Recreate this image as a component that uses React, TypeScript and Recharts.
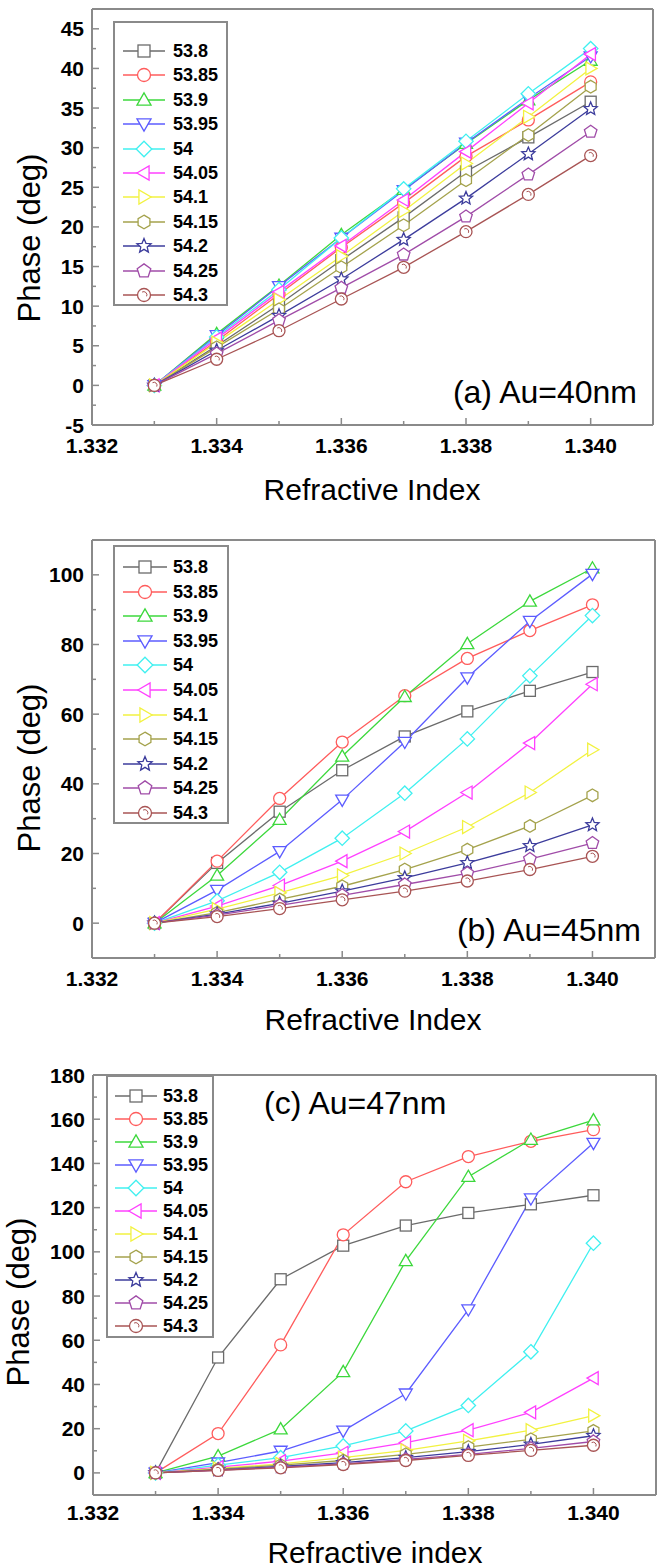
import React from "react";
import { LineChart, Line, XAxis, YAxis, Legend } from "recharts";

// x values (refractive index) shared by all three panels
const refractiveIndex = [1.333, 1.334, 1.335, 1.336, 1.337, 1.338, 1.339, 1.34];

// incidence angles, one series each
const angleLabels = ["53.8", "53.85", "53.9", "53.95", "54", "54.05", "54.1", "54.15", "54.2", "54.25", "54.3"];
const seriesColors = ["#6b6b6b", "#ff5c5c", "#3cd83c", "#5c5cff", "#40f0f0", "#ff40ff", "#f2f240", "#a4a24c", "#3c3c9c", "#a04ca8", "#a85454"];
const seriesShapes = ["square", "circle", "up", "down", "diamond", "left", "right", "hexagon", "star", "pentagon", "sphere"];

// (a) Au=40nm, rows follow angleLabels
const phaseAu40 = [
  [0, 5.0, 10.2, 15.8, 21.2, 27.0, 31.3, 35.8],
  [0, 5.6, 11.5, 17.4, 23.0, 28.9, 33.5, 38.3],
  [0, 6.5, 12.6, 19.0, 24.7, 30.5, 36.0, 41.0],
  [0, 6.3, 12.5, 18.6, 24.6, 30.6, 36.2, 41.5],
  [0, 6.1, 12.1, 18.6, 24.8, 30.8, 36.8, 42.5],
  [0, 5.9, 11.8, 17.6, 23.4, 29.5, 35.6, 41.8],
  [0, 5.4, 10.8, 16.3, 22.0, 28.0, 33.9, 40.0],
  [0, 4.8, 9.6, 14.9, 20.2, 25.9, 31.6, 37.7],
  [0, 4.4, 8.8, 13.4, 18.4, 23.6, 29.2, 34.9],
  [0, 4.0, 8.2, 12.3, 16.5, 21.3, 26.6, 32.0],
  [0, 3.3, 6.9, 10.9, 14.9, 19.4, 24.1, 29.0],
];

// (b) Au=45nm
const phaseAu45 = [
  [0, 17.3, 32.0, 43.9, 53.6, 60.8, 66.7, 72.1],
  [0, 17.8, 35.8, 52.0, 65.3, 76.0, 84.0, 91.4],
  [0, 13.7, 29.7, 47.9, 65.0, 80.2, 92.4, 101.9],
  [0, 9.5, 20.6, 35.4, 52.0, 70.5, 86.7, 100.2],
  [0, 6.4, 14.6, 24.4, 37.3, 52.9, 71.0, 88.3],
  [0, 4.9, 10.8, 17.8, 26.3, 37.5, 51.7, 68.6],
  [0, 4.0, 8.7, 13.7, 20.0, 27.6, 37.5, 49.8],
  [0, 3.0, 6.8, 10.6, 15.4, 21.1, 27.9, 36.7],
  [0, 2.6, 5.7, 9.2, 13.0, 17.3, 22.2, 28.2],
  [0, 2.3, 5.1, 8.0, 11.1, 14.3, 18.4, 23.0],
  [0, 1.9, 4.2, 6.7, 9.2, 12.1, 15.4, 19.2],
];

// (c) Au=47nm
const phaseAu47 = [
  [0, 52.2, 87.6, 102.8, 111.9, 117.6, 121.5, 125.6],
  [0, 17.8, 57.9, 107.7, 131.7, 143.1, 150.0, 155.3],
  [0, 7.6, 19.8, 45.7, 95.9, 134.0, 150.8, 159.6],
  [0, 4.6, 9.9, 19.0, 35.8, 73.9, 124.1, 149.2],
  [0, 3.5, 6.9, 12.2, 19.0, 30.5, 54.8, 103.9],
  [0, 2.6, 5.3, 9.1, 13.7, 19.3, 27.4, 42.9],
  [0, 2.0, 4.1, 6.9, 10.2, 14.5, 19.3, 25.9],
  [0, 1.7, 3.5, 5.6, 8.4, 11.7, 15.2, 19.0],
  [0, 1.4, 2.9, 4.6, 6.9, 9.6, 12.9, 16.8],
  [0, 1.2, 2.6, 4.1, 6.1, 8.4, 11.1, 14.2],
  [0, 1.1, 2.3, 3.8, 5.6, 7.9, 10.2, 12.5],
];

const xTicks = [1.332, 1.333, 1.334, 1.335, 1.336, 1.337, 1.338, 1.339, 1.34];
const yTicksAu40 = [-5, -2.5, 0, 2.5, 5, 7.5, 10, 12.5, 15, 17.5, 20, 22.5, 25, 27.5, 30, 32.5, 35, 37.5, 40, 42.5, 45];
const yTicksAu45 = [0, 10, 20, 30, 40, 50, 60, 70, 80, 90, 100];
const yTicksAu47 = [0, 10, 20, 30, 40, 50, 60, 70, 80, 90, 100, 110, 120, 130, 140, 150, 160, 170, 180];

const FONT = "'Liberation Sans', Arial, Helvetica, sans-serif";
const FRAME = "#8a8a8a";
const W = 657;

function polyPoints(cx: number, cy: number, n: number, R: number, rotDeg: number) {
  const pts: string[] = [];
  for (let i = 0; i < n; i++) {
    const a = ((rotDeg + (360 / n) * i) * Math.PI) / 180;
    pts.push(`${cx + R * Math.cos(a)},${cy + R * Math.sin(a)}`);
  }
  return pts.join(" ");
}

function starPoints(cx: number, cy: number, R: number) {
  const pts: string[] = [];
  for (let i = 0; i < 10; i++) {
    const rr = i % 2 === 0 ? R : R * 0.45;
    const a = ((-90 + 36 * i) * Math.PI) / 180;
    pts.push(`${cx + rr * Math.cos(a)},${cy + rr * Math.sin(a)}`);
  }
  return pts.join(" ");
}

function Marker({ shape, cx, cy, color, r = 6 }: any) {
  const st = { fill: "#fff", stroke: color, strokeWidth: 1.3 };
  switch (shape) {
    case "square":
      return <rect x={cx - r + 0.5} y={cy - r + 0.5} width={2 * r - 1} height={2 * r - 1} {...st} />;
    case "circle":
      return <circle cx={cx} cy={cy} r={r} {...st} />;
    case "up":
      return <polygon points={polyPoints(cx, cy + 1, 3, r * 1.25, -90)} {...st} />;
    case "down":
      return <polygon points={polyPoints(cx, cy - 1, 3, r * 1.25, 90)} {...st} />;
    case "left":
      return <polygon points={polyPoints(cx + 1, cy, 3, r * 1.25, 180)} {...st} />;
    case "right":
      return <polygon points={polyPoints(cx - 1, cy, 3, r * 1.25, 0)} {...st} />;
    case "diamond":
      return <polygon points={polyPoints(cx, cy, 4, r * 1.2, -90)} {...st} />;
    case "hexagon":
      return <polygon points={polyPoints(cx, cy, 6, r * 1.05, -90)} {...st} />;
    case "pentagon":
      return <polygon points={polyPoints(cx, cy, 5, r * 1.1, -90)} {...st} />;
    case "star":
      return <polygon points={starPoints(cx, cy, r * 1.15)} {...st} />;
    default:
      return (
        <g>
          <circle cx={cx} cy={cy} r={r} {...st} />
          <path d={`M${cx - r * 0.3},${cy - r * 0.45} A${r * 0.5},${r * 0.5} 0 0 1 ${cx + r * 0.4},${cy + r * 0.2}`} fill="none" stroke={color} strokeWidth={1} />
        </g>
      );
  }
}

function buildRows(values: number[][]) {
  return refractiveIndex.map((n, i) => {
    const row: Record<string, number> = { n };
    values.forEach((s, k) => {
      row["s" + k] = s[i];
    });
    return row;
  });
}

function XTick({ x, y, payload, labelDy }: any) {
  const v = payload.value as number;
  const major = Math.round(v * 1000) % 2 === 0;
  return (
    <g>
      <line x1={x} x2={x} y1={y} y2={y - (major ? 7 : 4)} stroke={FRAME} strokeWidth={1.5} />
      {major && (
        <text x={x} y={y + labelDy} textAnchor="middle" dy="0.36em" fontFamily={FONT} fontSize={21} fontWeight="bold" fill="#000">
          {v.toFixed(3)}
        </text>
      )}
    </g>
  );
}

function YTick({ x, y, payload, majorStep }: any) {
  const v = payload.value as number;
  const major = Math.abs(v / majorStep - Math.round(v / majorStep)) < 1e-6;
  return (
    <g>
      <line x1={x} x2={x + (major ? 7 : 4)} y1={y} y2={y} stroke={FRAME} strokeWidth={1.5} />
      {major && (
        <text x={x - 8} y={y} textAnchor="end" dy="0.36em" fontFamily={FONT} fontSize={21} fontWeight="bold" fill="#000">
          {v}
        </text>
      )}
    </g>
  );
}

function LegendBox({ payload, cfg }: any) {
  const items = payload ?? [];
  return (
    <div
      style={{
        width: cfg.width,
        height: cfg.height,
        boxSizing: "border-box",
        border: `2px solid ${FRAME}`,
        background: "#fff",
        position: "relative",
        fontFamily: FONT,
      }}
    >
      {items.map((it: any, i: number) => {
        const k = angleLabels.indexOf(String(it.value));
        const cy = cfg.first + i * cfg.step - 2;
        return (
          <div key={String(it.value)} style={{ position: "absolute", left: -2, top: cy - 10, height: 20, display: "flex", alignItems: "center" }}>
            <svg width={cfg.textX} height={20} style={{ flex: "none", overflow: "visible" }}>
              <line x1={cfg.lineStart} x2={cfg.lineEnd} y1={10} y2={10} stroke={it.color} strokeWidth={1.5} />
              <Marker shape={seriesShapes[k]} cx={(cfg.lineStart + cfg.lineEnd) / 2} cy={10} color={it.color} r={6.5} />
            </svg>
            <span style={{ fontSize: 18, fontWeight: "bold", color: "#000", lineHeight: "20px", whiteSpace: "nowrap" }}>{it.value}</span>
          </div>
        );
      })}
    </div>
  );
}

const panels = [
  {
    id: "a",
    top: 0,
    height: 520,
    plot: { left: 92, right: 653, top: 9, bottom: 425 },
    yDomain: [-5, 47.5],
    yTicks: yTicksAu40,
    majorStep: 5,
    values: phaseAu40,
    xLabelDy: 20,
    legend: { left: 113, top: 21, width: 115, height: 285, first: 30, step: 24.4, lineStart: 10, lineEnd: 52, textX: 60 },
    note: "(a) Au=40nm",
    noteStyle: { right: W - 637, top: 392 },
    xTitle: "Refractive Index",
    xTitlePos: { x: 372, y: 490 },
    yTitlePos: { x: 29, y: 238 },
  },
  {
    id: "b",
    top: 520,
    height: 520,
    plot: { left: 92, right: 655, top: 20, bottom: 438 },
    yDomain: [-10, 110],
    yTicks: yTicksAu45,
    majorStep: 20,
    values: phaseAu45,
    xLabelDy: 20,
    legend: { left: 113, top: 25, width: 116, height: 279, first: 22, step: 24.6, lineStart: 10, lineEnd: 54, textX: 60 },
    note: "(b) Au=45nm",
    noteStyle: { right: W - 641, top: 410 },
    xTitle: "Refractive Index",
    xTitlePos: { x: 373, y: 500 },
    yTitlePos: { x: 29, y: 248 },
  },
  {
    id: "c",
    top: 1040,
    height: 528,
    plot: { left: 93, right: 656, top: 35, bottom: 455 },
    yDomain: [-10, 180],
    yTicks: yTicksAu47,
    majorStep: 20,
    values: phaseAu47,
    xLabelDy: 17,
    legend: { left: 106, top: 35, width: 108, height: 263, first: 21, step: 23, lineStart: 9, lineEnd: 51, textX: 57 },
    note: "(c) Au=47nm",
    noteStyle: { left: 264, top: 63 },
    xTitle: "Refractive index",
    xTitlePos: { x: 375, y: 513 },
    yTitlePos: { x: 18, y: 262 },
  },
];

function PhasePanel({ p }: any) {
  const rows = buildRows(p.values);
  // axes get a 1px band (a 0px axis is not drawn), so the margins give that pixel back
  const margin = { top: p.plot.top - 1, left: p.plot.left - 1, right: W - p.plot.right - 1, bottom: p.height - p.plot.bottom - 1 };
  const axisLine = { stroke: FRAME, strokeWidth: 2 };
  return (
    <div style={{ position: "absolute", left: 0, top: p.top, width: W, height: p.height }}>
      <LineChart width={W} height={p.height} data={rows} margin={margin}>
        <XAxis
          dataKey="n"
          type="number"
          domain={[1.332, 1.341]}
          ticks={xTicks}
          interval={0}
          height={1}
          tickSize={0}
          tickMargin={0}
          tickLine={false}
          axisLine={axisLine}
          tick={(tp: any) => <XTick {...tp} labelDy={p.xLabelDy} />}
        />
        <XAxis xAxisId="top" orientation="top" dataKey="n" type="number" domain={[1.332, 1.341]} height={1} tick={false} tickLine={false} axisLine={axisLine} />
        <YAxis
          type="number"
          domain={p.yDomain}
          ticks={p.yTicks}
          interval={0}
          width={1}
          tickSize={0}
          tickMargin={0}
          tickLine={false}
          allowDataOverflow
          axisLine={axisLine}
          tick={(tp: any) => <YTick {...tp} majorStep={p.majorStep} />}
        />
        <YAxis yAxisId="right" orientation="right" type="number" domain={p.yDomain} allowDataOverflow width={1} tick={false} tickLine={false} axisLine={axisLine} />
        {angleLabels.map((name, k) => (
          <Line
            key={name}
            dataKey={"s" + k}
            name={name}
            stroke={seriesColors[k]}
            strokeWidth={1.3}
            activeDot={false}
            isAnimationActive={false}
            dot={(dp: any) => <Marker key={`${name}-${dp.index}`} shape={seriesShapes[k]} cx={dp.cx} cy={dp.cy} color={seriesColors[k]} />}
          />
        ))}
        <Legend
          layout="horizontal"
          verticalAlign="middle"
          align="center"
          wrapperStyle={{ position: "absolute", left: p.legend.left, top: p.legend.top, width: p.legend.width, height: p.legend.height }}
          content={(lp: any) => <LegendBox payload={lp.payload} cfg={p.legend} />}
        />
      </LineChart>
      <div
        style={{
          position: "absolute",
          ...p.noteStyle,
          transform: "translate(0,-50%)",
          fontFamily: FONT,
          fontSize: 32,
          lineHeight: 1,
          whiteSpace: "nowrap",
          color: "#000",
        }}
      >
        {p.note}
      </div>
      <div
        style={{
          position: "absolute",
          left: p.xTitlePos.x,
          top: p.xTitlePos.y,
          transform: "translate(-50%,-50%)",
          fontFamily: FONT,
          fontSize: 30,
          lineHeight: 1,
          whiteSpace: "nowrap",
          color: "#000",
        }}
      >
        {p.xTitle}
      </div>
      <div
        style={{
          position: "absolute",
          left: p.yTitlePos.x,
          top: p.yTitlePos.y,
          transform: "translate(-50%,-50%) rotate(-90deg)",
          fontFamily: FONT,
          fontSize: 31,
          lineHeight: 1,
          whiteSpace: "nowrap",
          color: "#000",
        }}
      >
        Phase (deg)
      </div>
    </div>
  );
}

export default function App() {
  return (
    <div style={{ position: "absolute", left: 0, top: 0, width: W, height: 1568, background: "#fff", overflow: "hidden" }}>
      {panels.map((p) => (
        <PhasePanel key={p.id} p={p} />
      ))}
    </div>
  );
}
